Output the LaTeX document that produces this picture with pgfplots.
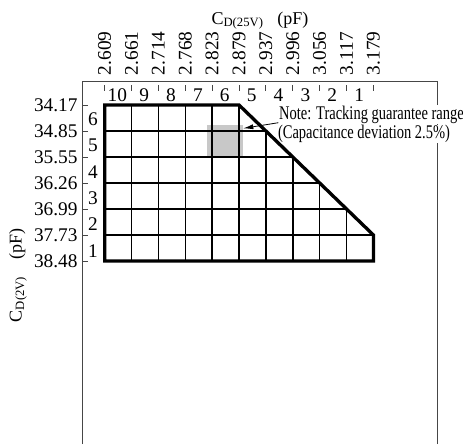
\documentclass[border=0pt]{standalone}
\usepackage{fontspec}
\setmainfont{Liberation Serif}
\newfontfamily\notefont[FakeStretch=0.75]{Liberation Serif}
\usepackage{pgfplots}
\pgfplotsset{compat=1.18}
\usetikzlibrary{arrows.meta}
\definecolor{cellgray}{RGB}{200,200,200}
\definecolor{axisgray}{RGB}{70,70,70}

\begin{document}
\begin{tikzpicture}[num/.style={font=\fontsize{14.5}{17}\selectfont},
                    lab/.style={font=\fontsize{13.5}{16}\selectfont}]
\begin{axis}[
    at={(0,0)}, anchor=south west,
    scale only axis, width=266.5pt, height=271.7pt,
    xmin=-0.834, xmax=12.39, ymin=-7.04, ymax=6.896,
    axis x line*=top, axis y line*=left,
    axis line style={-, axisgray, line width=1pt},
    xtick={0,...,10},
    xticklabels={2.609,2.661,2.714,2.768,2.823,2.879,2.937,2.996,3.056,3.117,3.179},
    ytick={0,...,6},
    yticklabels={38.48,37.73,36.99,36.26,35.55,34.85,34.17},
    tick align=inside, major tick length=4.6pt,
    tick style={axisgray, line width=0.8pt},
    xtick style={yshift=-2.6pt},
    tick label style={font=\fontsize{14.5}{17}\selectfont},
    xticklabel style={rotate=90, anchor=west},
    xticklabel shift=1.5pt,
    clip=false,
]
% shaded cell
\addplot[draw=none, fill=cellgray] coordinates {(3.815,3.95) (5.136,3.95) (5.136,5.23) (3.815,5.23)} -- cycle;

% right edge of the frame
\draw[axisgray, line width=1pt] (rel axis cs:1,0) -- (rel axis cs:1,1);

% note
\node[anchor=base west, fill=white, inner sep=0.4pt, font=\notefont\fontsize{14.5}{17}\selectfont]
    at (axis cs:6.46,5.45) {Note: Tracking guarantee range};
\node[anchor=base west, fill=white, inner sep=0.4pt, font=\notefont\fontsize{14.5}{17}\selectfont]
    at (axis cs:6.42,4.71) {(Capacitance deviation 2.5\%)};
\addplot[black, line width=0.6pt, -{Latex[length=7.5pt, width=3.8pt]}] coordinates {(6.46,5.32) (5.158,5.104)};

% grid
\addplot[black, line width=1.1pt] coordinates {(0,1) (10,1)};
\addplot[black, line width=1.1pt] coordinates {(0,2) (9,2)};
\addplot[black, line width=1.1pt] coordinates {(0,3) (8,3)};
\addplot[black, line width=1.1pt] coordinates {(0,4) (7,4)};
\addplot[black, line width=1.1pt] coordinates {(0,5) (6,5)};
\addplot[black, line width=1.1pt] coordinates {(1,0) (1,6)};
\addplot[black, line width=1.1pt] coordinates {(2,0) (2,6)};
\addplot[black, line width=1.1pt] coordinates {(3,0) (3,6)};
\addplot[black, line width=1.1pt] coordinates {(4,0) (4,6)};
\addplot[black, line width=1.1pt] coordinates {(5,0) (5,6)};
\addplot[black, line width=1.1pt] coordinates {(6,0) (6,5)};
\addplot[black, line width=1.1pt] coordinates {(7,0) (7,4)};
\addplot[black, line width=1.1pt] coordinates {(8,0) (8,3)};
\addplot[black, line width=1.1pt] coordinates {(9,0) (9,2)};

% guarantee range outline
\addplot[black, line width=2.5pt, line join=miter] coordinates {(0,0) (0,6) (5,6) (10,1) (10,0)} -- cycle;

% column numbers
\node[num, anchor=base] at (axis cs:0.47,6.13) {10};
\node[num, anchor=base] at (axis cs:1.47,6.13) {9};
\node[num, anchor=base] at (axis cs:2.47,6.13) {8};
\node[num, anchor=base] at (axis cs:3.47,6.13) {7};
\node[num, anchor=base] at (axis cs:4.47,6.13) {6};
\node[num, anchor=base] at (axis cs:5.47,6.13) {5};
\node[num, anchor=base] at (axis cs:6.47,6.13) {4};
\node[num, anchor=base] at (axis cs:7.47,6.13) {3};
\node[num, anchor=base] at (axis cs:8.47,6.13) {2};
\node[num, anchor=base] at (axis cs:9.47,6.13) {1};
% row numbers
\node[num] at (axis cs:-0.44,0.40) {1};
\node[num] at (axis cs:-0.44,1.41) {2};
\node[num] at (axis cs:-0.44,2.42) {3};
\node[num] at (axis cs:-0.44,3.43) {4};
\node[num] at (axis cs:-0.44,4.44) {5};
\node[num] at (axis cs:-0.44,5.46) {6};

% axis titles
\node[lab, anchor=base, yshift=43.3pt] at (rel axis cs:0.5,1)
    {C\raisebox{-0.3ex}{\fontsize{9.5}{10}\selectfont D(25V)}\hspace{0.8em}(pF)};
\node[lab, xshift=-45.5pt, yshift=126.75pt, rotate=90, anchor=base] at (rel axis cs:0,0)
    {C\raisebox{-0.3ex}{\fontsize{9.5}{10}\selectfont D(2V)}\hspace{1em}(pF)};
\end{axis}
\pgfresetboundingbox
\path (-61.7pt,0pt) rectangle (285.5pt,333pt);
\end{tikzpicture}
\end{document}
